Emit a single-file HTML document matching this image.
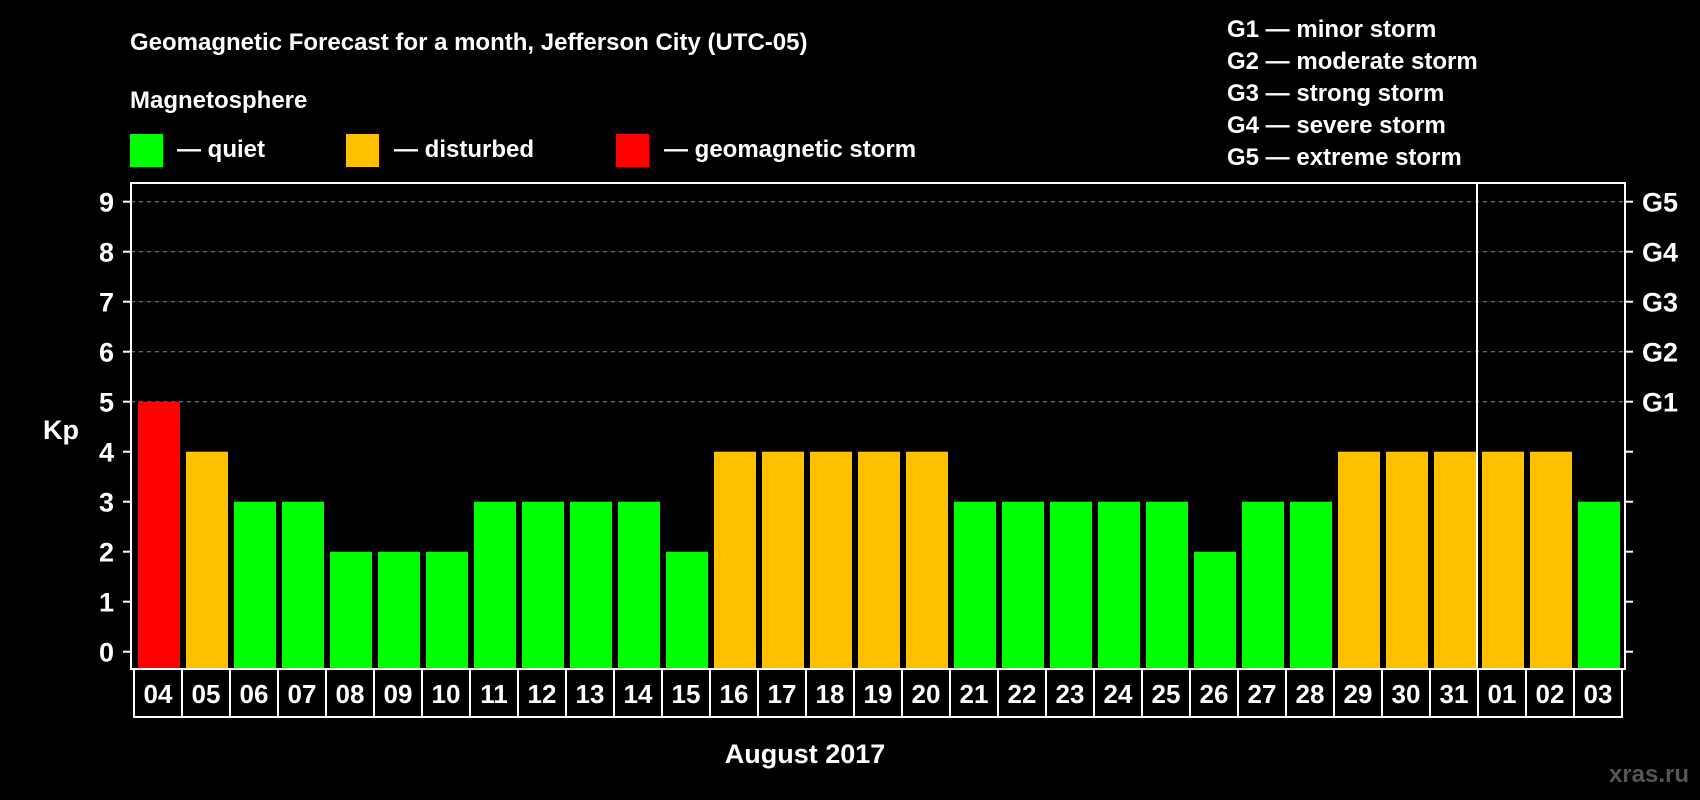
<!DOCTYPE html>
<html><head><meta charset="utf-8"><style>
html,body{margin:0;padding:0;background:#000;width:1700px;height:800px;overflow:hidden}
svg{display:block;font-family:"Liberation Sans",Arial,sans-serif;font-weight:bold}
</style></head><body>
<svg id="chart" width="1700" height="800">
<text x="130" y="50" fill="#fff" font-size="24">Geomagnetic Forecast for a month, Jefferson City (UTC-05)</text>
<text x="130" y="108" fill="#fff" font-size="24">Magnetosphere</text>
<rect x="130" y="134" width="33" height="33" fill="#00ff00"/>
<text x="177" y="157" fill="#fff" font-size="24">— quiet</text>
<rect x="346" y="134" width="33" height="33" fill="#ffc000"/>
<text x="394" y="157" fill="#fff" font-size="24">— disturbed</text>
<rect x="616" y="134" width="33" height="33" fill="#ff0000"/>
<text x="664" y="157" fill="#fff" font-size="24">— geomagnetic storm</text>
<g fill="#fff" font-size="24">
<text x="1227" y="37">G1 — minor storm</text>
<text x="1227" y="69">G2 — moderate storm</text>
<text x="1227" y="101">G3 — strong storm</text>
<text x="1227" y="133">G4 — severe storm</text>
<text x="1227" y="165">G5 — extreme storm</text>
</g>
<text x="43" y="439" fill="#fff" font-size="27">Kp</text>
<text x="805" y="763" fill="#fff" font-size="27" text-anchor="middle">August 2017</text>
<text x="1689" y="782" fill="#555" font-size="24" text-anchor="end">xras.ru</text>
<g id="grid"></g><g id="bars"></g><g id="axes"></g><g id="labels"></g>
</svg>
<script>
const days=["04","05","06","07","08","09","10","11","12","13","14","15","16","17","18","19","20","21","22","23","24","25","26","27","28","29","30","31","01","02","03"];
const kp=[5,4,3,3,2,2,2,3,3,3,3,2,4,4,4,4,4,3,3,3,3,3,2,3,3,4,4,4,4,4,3];
const yTicks=[0,1,2,3,4,5,6,7,8,9];
const gLabels=["G1","G2","G3","G4","G5"];
const gLevels=[5,6,7,8,9];
const monthBreak=28;
const NS="http://www.w3.org/2000/svg";
const L=131,R=1625,T=183,B=669,x0=134,step=48;
const y=v=>651.7-v*50;
const x=i=>x0+i*step;
function mk(tag,attrs,parent){const e=document.createElementNS(NS,tag);for(const k in attrs)e.setAttribute(k,attrs[k]);document.getElementById(parent).appendChild(e);return e;}
gLevels.forEach((g,i)=>{
 const l=mk("line",{x1:L,x2:R,y1:y(g),y2:y(g),stroke:"#888","stroke-width":1,"stroke-dasharray":"4,4"},"grid");
 
 
 const t=mk("text",{x:1642,y:y(g)+10,fill:"#fff","font-size":27},"labels");t.textContent=gLabels[i];
 
 
});
kp.forEach((v,i)=>{
 const c=v>=5?"#ff0000":v>=4?"#ffc000":"#00ff00";
 const r=mk("rect",{x:x(i)+4,y:y(v),width:42,height:y(0)-y(v)+17,fill:c},"bars");
 
 
 const b=mk("rect",{x:x(i),y:B,width:step,height:48,fill:"none",stroke:"#fff","stroke-width":2},"labels");
 
 
 const t=mk("text",{x:x(i)+step/2,y:B+34,fill:"#fff","font-size":26,"text-anchor":"middle"},"labels");t.textContent=days[i];
 
 
});
const fr=mk("rect",{x:L,y:T,width:R-L,height:B-T,fill:"none",stroke:"#fff","stroke-width":2},"axes");


const sep=mk("line",{x1:x(monthBreak)-1,x2:x(monthBreak)-1,y1:T,y2:B,stroke:"#fff","stroke-width":2},"axes");


yTicks.forEach(v=>{
 const a=mk("line",{x1:L-8,x2:L,y1:y(v),y2:y(v),stroke:"#fff","stroke-width":2},"axes");
 
 
 const b=mk("line",{x1:R,x2:R+8,y1:y(v),y2:y(v),stroke:"#fff","stroke-width":2},"axes");
 
 
 const t=mk("text",{x:114,y:y(v)+10,fill:"#fff","font-size":27,"text-anchor":"end"},"labels");t.textContent=v;
 
 
});
</script>
</body></html>
